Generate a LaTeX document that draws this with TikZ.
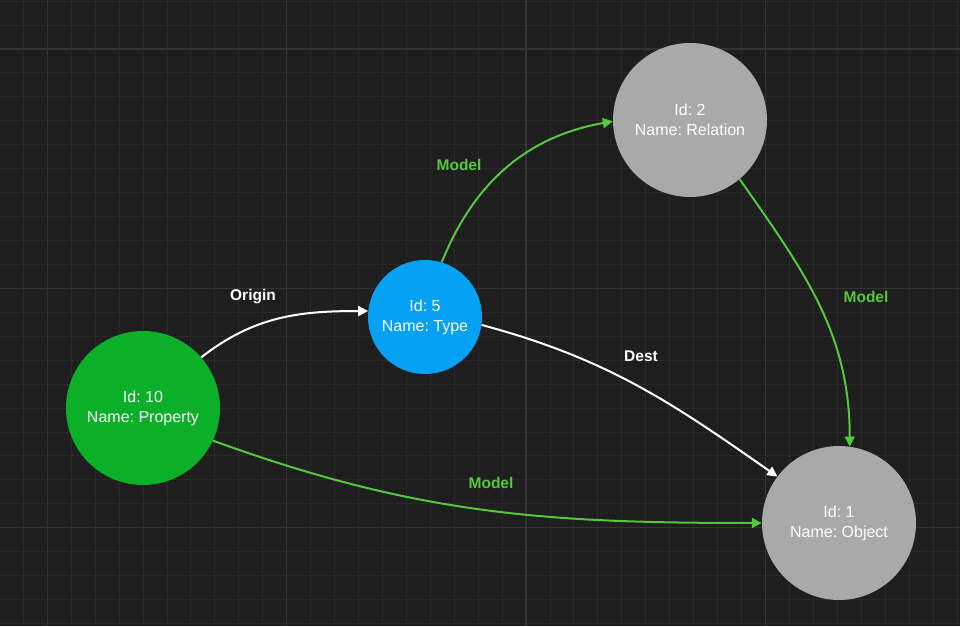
\documentclass[tikz,border=0pt]{standalone}
\usepackage{fontspec}
\setmainfont{Liberation Sans}
\usetikzlibrary{arrows.meta}
\definecolor{bgc}{RGB}{30,30,30}
\definecolor{minorc}{RGB}{41,41,41}
\definecolor{majorc}{RGB}{52,52,52}
\definecolor{propg}{RGB}{12,176,40}
\definecolor{typeb}{RGB}{5,161,245}
\definecolor{grayn}{RGB}{169,169,169}
\definecolor{edgeg}{RGB}{84,200,60}
\tikzset{
  circnode/.style={circle, draw=none, text=white, align=center,
    font=\fontsize{16}{20}\selectfont\frenchspacing, inner sep=0pt},
  bignode/.style={circnode, minimum size=154pt},
  smallnode/.style={circnode, minimum size=114pt},
  wedge/.style={draw=white, line width=2pt, -{Triangle[length=10pt,width=10pt]}},
  gedge/.style={draw=edgeg, line width=2pt, -{Triangle[length=10pt,width=10pt]}},
  wlabel/.style={text=white, font=\fontsize{15.5}{18}\selectfont\bfseries},
  glabel/.style={text=edgeg, font=\fontsize{15.5}{18}\selectfont\bfseries},
}
\begin{document}
\begin{tikzpicture}[x=1pt,y=1pt]
\useasboundingbox (0,0) rectangle (960,626);
\fill[bgc] (0,0) rectangle (960,626);
\begin{scope}
\clip (0,0) rectangle (960,626);
\foreach \n in {-2,...,38} {
  \draw[minorc, line width=1pt] ({47.3+23.94*\n},0) -- ({47.3+23.94*\n},626);
}
\foreach \n in {-2,...,25} {
  \draw[minorc, line width=1pt] (0,{577-23.94*\n}) -- (960,{577-23.94*\n});
}
\foreach \n in {0,1,2,3} {
  \draw[majorc, line width=1.3pt] ({47.3+239.4*\n},0) -- ({47.3+239.4*\n},626);
}
\foreach \n in {0,1,2} {
  \draw[majorc, line width=1.3pt] (0,{577-239.4*\n}) -- (960,{577-239.4*\n});
}
\end{scope}

\node[bignode, fill=propg] (P) at (143,218) {Id: 10\\Name: Property};
\node[smallnode, fill=typeb] (T) at (425,309) {Id: 5\\Name: Type};
\node[bignode, fill=grayn] (R) at (690,506) {Id: 2\\Name: Relation};
\node[bignode, fill=grayn] (O) at (839,103) {Id: 1\\Name: Object};

\draw[wedge] (P.41) to[out=38,in=180] (T.174);
\draw[gedge] (T.73) to[out=68,in=190] (R.181);
\draw[wedge] (T.-8) to[out=-15,in=145] (O.143);
\draw[gedge] (R.-50) to[out=-55,in=90] (O.82);
\draw[gedge] (P.-25) to[out=-20,in=180] (O.180);

\node[wlabel] (lo) at (253,329) {Origin};
\node[glabel] (lm1) at (459,461) {Model};
\node[wlabel] (ld) at (641,270) {Dest};
\node[glabel] (lm2) at (866,329) {Model};
\node[glabel] (lm3) at (491,143) {Model};
\end{tikzpicture}
\end{document}
